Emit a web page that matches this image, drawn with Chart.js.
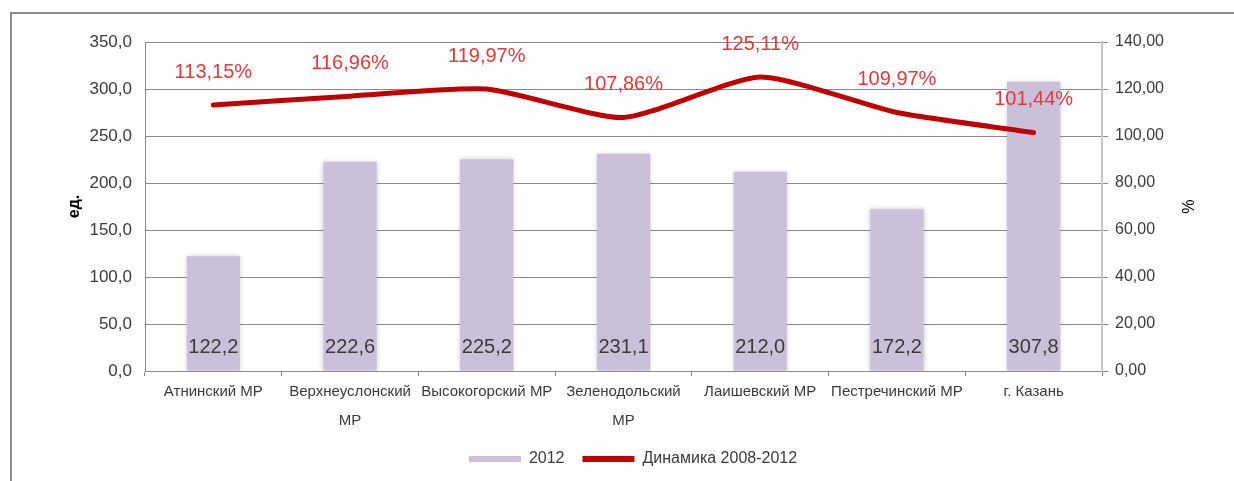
<!DOCTYPE html>
<html><head><meta charset="utf-8">
<script src="https://cdn.jsdelivr.net/npm/chart.js@4.4.1/dist/chart.umd.min.js"></script>
<style>
html,body{margin:0;padding:0;background:#fff;overflow:hidden}
#wrap{position:relative;width:1234px;height:481px;overflow:hidden}
#frame{position:absolute;left:10px;top:12px;right:-5px;bottom:-5px;border-top:2px solid #8a8a8a;border-left:2px solid #8a8a8a}
canvas{position:absolute;left:0;top:0}
</style></head><body>
<div id="wrap"><div id="frame"></div><canvas id="c" width="1234" height="481" style="width:1234px;height:481px"></canvas></div>
<script>
const categories = ["Атнинский МР", ["Верхнеуслонский", "МР"], "Высокогорский МР", ["Зеленодольский", "МР"], "Лаишевский МР", "Пестречинский МР", "г. Казань"];
const values2012 = [122.2, 222.6, 225.2, 231.1, 212.0, 172.2, 307.8];
const dynamics = [113.15, 116.96, 119.97, 107.86, 125.11, 109.97, 101.44];
const seriesNames = ["2012", "Динамика 2008-2012"];
const leftTicks = [0, 50, 100, 150, 200, 250, 300, 350];
const rightTicks = [0, 20, 40, 60, 80, 100, 120, 140];

const FAM = "'Liberation Sans', Arial, sans-serif";
Chart.defaults.font.family = FAM;
Chart.defaults.color = '#3a3a3a';
const comma = (v, d) => v.toFixed(d).replace('.', ',');

const valuePlugin = {
  id: 'vals',
  beforeDatasetDraw(chart, args) {
    if (args.index === 0) {
      chart.ctx.save();
      chart.ctx.shadowColor = 'rgba(0,0,0,0.22)';
      chart.ctx.shadowBlur = 5;
    }
  },
  afterDatasetDraw(chart, args) {
    if (args.index === 0) chart.ctx.restore();
  },
  afterDatasetsDraw(chart) {
    const ctx = chart.ctx;
    ctx.save();
    ctx.textAlign = 'center';
    ctx.textBaseline = 'middle';
    ctx.font = "20px " + FAM;
    ctx.fillStyle = '#3a3a3a';
    chart.getDatasetMeta(0).data.forEach((el, i) => {
      ctx.fillText(comma(values2012[i], 1), el.x, el.base - 23);
    });
    ctx.font = "20px " + FAM;
    ctx.fillStyle = '#E03A3A';
    chart.getDatasetMeta(1).data.forEach((el, i) => {
      ctx.fillText(comma(dynamics[i], 2) + '%', el.x, el.y - 33);
    });
    ctx.restore();
  }
};

new Chart(document.getElementById('c'), {
  data: {
    labels: categories,
    datasets: [
      { type: 'bar', label: seriesNames[0], data: values2012, backgroundColor: '#CBC0DA', borderWidth: 0,
        barPercentage: 0.39, categoryPercentage: 1, yAxisID: 'y', order: 2 },
      { type: 'line', label: seriesNames[1], data: dynamics, borderColor: '#C00000', backgroundColor: '#C00000',
        borderWidth: 5, pointRadius: 0, tension: 0.2, borderCapStyle: 'round', borderJoinStyle: 'round',
        yAxisID: 'y1', order: 1 }
    ]
  },
  options: {
    responsive: false,
    animation: false,
    layout: { padding: { left: 42, right: 10, top: 42, bottom: 4 } },
    plugins: {
      tooltip: { enabled: false },
      legend: {
        position: 'bottom',
        labels: {
          boxWidth: 52, boxHeight: 6, padding: 18, color: '#3a3a3a',
          font: { size: 16 },
          generateLabels: (chart) => chart.data.datasets.map((ds, i) => ({
            text: ds.label, fillStyle: i === 0 ? '#CBC0DA' : '#C00000', strokeStyle: 'rgba(0,0,0,0)',
            lineWidth: 0, hidden: false, datasetIndex: i, fontColor: '#3a3a3a'
          }))
        }
      }
    },
    scales: {
      x: {
        grid: { offset: true, drawOnChartArea: false, drawTicks: true, tickLength: 5, color: '#8a8a8a' },
        border: { color: '#8a8a8a' },
        ticks: { maxRotation: 0, minRotation: 0, autoSkip: false, padding: 1, color: '#3a3a3a',
          font: { size: 15, lineHeight: '29px' } },
        afterFit: (s) => { s.height = 62; }
      },
      y: {
        position: 'left', min: 0, max: 350,
        afterBuildTicks: (s) => { s.ticks = leftTicks.map(v => ({ value: v })); },
        ticks: { padding: 13, color: '#3a3a3a', font: { size: 17 }, callback: (v) => comma(v, 1) },
        grid: { color: '#8a8a8a', drawTicks: false },
        border: { color: '#8a8a8a' },
        title: { display: true, text: 'ед.', color: '#000', font: { size: 16, weight: 'bold' }, padding: { top: 23, bottom: 0 } },
        afterFit: (s) => { s.width = 103; }
      },
      y1: {
        position: 'right', min: 0, max: 140,
        afterBuildTicks: (s) => { s.ticks = rightTicks.map(v => ({ value: v })); },
        ticks: { padding: 7, color: '#3a3a3a', font: { size: 16 }, callback: (v) => comma(v, 2) },
        grid: { drawOnChartArea: false, drawTicks: true, tickLength: 6, color: '#8a8a8a' },
        border: { color: '#c8c8c8', width: 2 },
        title: { display: true, text: '%', color: '#000', font: { size: 16 }, padding: { top: 28, bottom: 0 } },
        afterFit: (s) => { s.width = 122; }
      }
    }
  },
  plugins: [valuePlugin]
});
</script>
</body></html>
